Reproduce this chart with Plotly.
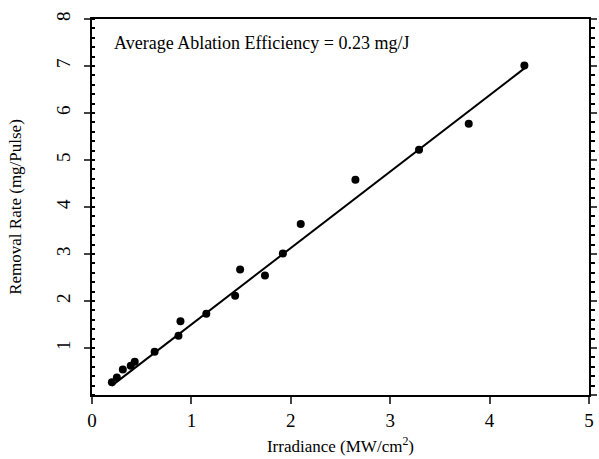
import plotly.graph_objects as go

# Data
irradiance = [0.20, 0.25, 0.31, 0.39, 0.43, 0.63, 0.87, 0.89, 1.15, 1.44, 1.49,
              1.74, 1.92, 2.10, 2.65, 3.29, 3.79, 4.35]
removal_rate = [0.27, 0.37, 0.54, 0.62, 0.71, 0.92, 1.26, 1.57, 1.73, 2.11, 2.67,
                2.54, 3.01, 3.64, 4.58, 5.22, 5.77, 7.01]
fit_x = [0.20, 4.35]
fit_y = [0.20, 6.95]
x_ticks = [0, 1, 2, 3, 4, 5]
y_ticks = [1, 2, 3, 4, 5, 6, 7, 8]
annotation_text = "Average Ablation Efficiency = 0.23 mg/J"

FONT = "Liberation Serif"

fig = go.Figure()
fig.add_trace(go.Scatter(x=fit_x, y=fit_y, mode="lines",
                         line=dict(color="black", width=2), showlegend=False,
                         hoverinfo="skip"))
fig.add_trace(go.Scatter(x=irradiance, y=removal_rate, mode="markers",
                         marker=dict(color="black", size=8), showlegend=False))
# invisible trace to anchor the right-hand axis
fig.add_trace(go.Scatter(x=[None], y=[None], yaxis="y2", showlegend=False,
                         hoverinfo="skip"))

fig.update_layout(
    width=599, height=459,
    margin=dict(l=92, r=10, t=19, b=64),
    plot_bgcolor="white", paper_bgcolor="white",
    font=dict(family=FONT, color="black"),
    xaxis=dict(
        range=[0, 5], tickvals=x_ticks, ticks="outside", ticklen=7, tickwidth=2,
        showline=True, linewidth=2, linecolor="black", mirror=True,
        showgrid=False, zeroline=False, tickfont=dict(size=19), automargin=False,
        title=dict(text="Irradiance (MW/cm<sup>2</sup>)", font=dict(size=17), standoff=10),
    ),
    yaxis=dict(
        range=[0, 8], tickvals=y_ticks, ticks="outside", ticklen=6, tickwidth=2,
        showline=True, linewidth=2, linecolor="black", automargin=False,
        showgrid=False, zeroline=False, tickangle=-90, tickfont=dict(size=19),
        ticklabelstandoff=6,
        minor=dict(dtick=0.2, ticks="inside", ticklen=3, tickwidth=2, tickcolor="black", showgrid=False),
        title=dict(text="Removal Rate (mg/Pulse)", font=dict(size=17), standoff=27),
    ),
    yaxis2=dict(
        range=[0, 8], overlaying="y", side="right", tickvals=[0] + y_ticks,
        ticks="outside", ticklen=6, tickwidth=2, showticklabels=False,
        showline=True, linewidth=2, linecolor="black", automargin=False,
        showgrid=False, zeroline=False,
        minor=dict(dtick=0.2, ticks="outside", ticklen=4, tickwidth=2, tickcolor="black", showgrid=False),
    ),
    annotations=[dict(
        text=annotation_text, xref="paper", yref="paper", x=0.04, y=0.935,
        xanchor="left", yanchor="middle", showarrow=False,
        font=dict(size=18, family=FONT, color="black"),
    )],
)

fig.write_html("out.html")
